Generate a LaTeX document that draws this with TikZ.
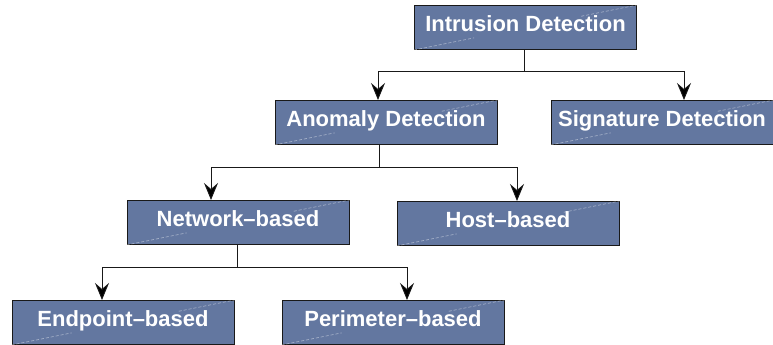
\documentclass[tikz,border=0pt]{standalone}
\usepackage{fontspec}
\setmainfont{Liberation Sans}
\usetikzlibrary{arrows.meta,calc}
\definecolor{boxfill}{RGB}{99,119,160}
\definecolor{edge}{RGB}{25,25,25}
\tikzset{
  box/.style={draw=edge, line width=1pt, fill=boxfill, inner sep=0pt,
    minimum width=222pt, text height=26pt, text depth=18pt,
    text=white, font=\fontsize{22}{26}\selectfont\bfseries, align=center},
  conn/.style={draw=edge, line width=0.9pt},
  arr/.style={conn, -{Stealth[length=17pt,width=14pt,inset=6pt,fill=black]}},
  gleam/.style={draw=white, opacity=0.45, line width=0.6pt, dash pattern=on 3pt off 2pt}
}
\begin{document}
\begin{tikzpicture}[x=1pt,y=-1pt]
\useasboundingbox (0,0) rectangle (773,345);
\node[box] (ID) at (525.5,5) [anchor=north] {Intrusion Detection};
\node[box] (AD) at (386,100) [anchor=north] {Anomaly Detection};
\node[box] (SD) at (662,100) [anchor=north] {Signature Detection};
\node[box] (NB) at (238,200) [anchor=north] {Network--based};
\node[box] (HB) at (508,201) [anchor=north] {Host--based};
\node[box] (EB) at (123,300) [anchor=north] {Endpoint--based};
\node[box] (PB) at (393,300) [anchor=north] {Perimeter--based};
\foreach \n in {ID,AD,SD,NB,HB,EB,PB}{
  \draw[gleam] (\n.south west) -- ($(\n.south west)!0.27!(\n.north east)$);
  \draw[gleam] ($(\n.south west)!0.75!(\n.north east)$) -- (\n.north east);
}
% level 1
\coordinate (a1) at (378,71);
\coordinate (b1) at (684,71);
\draw[conn] (ID.south -| 524,0) -- (524,71);
\draw[conn] (a1) -- (b1);
\draw[arr] (a1) -- (a1 |- AD.north);
\draw[arr] (b1) -- (b1 |- SD.north);
% level 2
\coordinate (a2) at (211,167);
\coordinate (b2) at (517,167);
\draw[conn] (AD.south -| 379,0) -- (379,167);
\draw[conn] (a2) -- (b2);
\draw[arr] (a2) -- (a2 |- NB.north);
\draw[arr] (b2) -- (b2 |- HB.north);
% level 3
\coordinate (a3) at (102,267);
\coordinate (b3) at (407,267);
\draw[conn] (NB.south -| 237,0) -- (237,267);
\draw[conn] (a3) -- (b3);
\draw[arr] (a3) -- (a3 |- EB.north);
\draw[arr] (b3) -- (b3 |- PB.north);
\end{tikzpicture}
\end{document}
